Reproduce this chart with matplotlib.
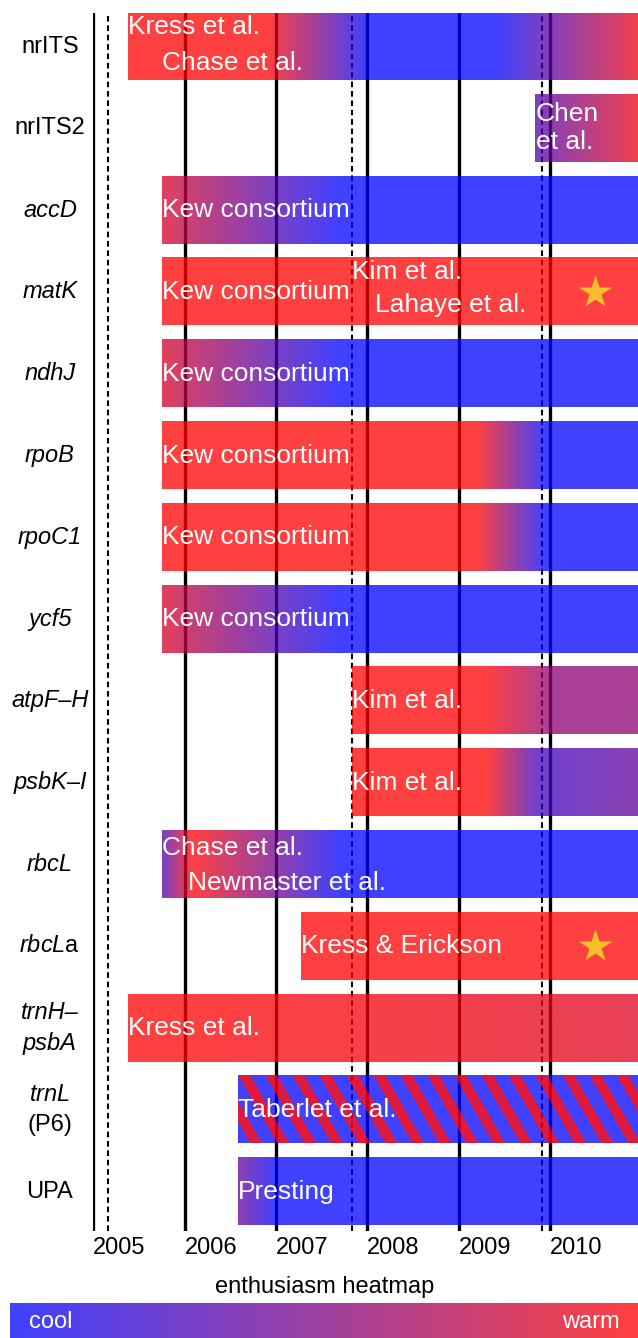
import numpy as np
import matplotlib
matplotlib.use("Agg")
import matplotlib.pyplot as plt
from matplotlib.colors import LinearSegmentedColormap

plt.rcParams['font.family'] = 'Liberation Sans'
plt.rcParams['mathtext.fontset'] = 'custom'
plt.rcParams['mathtext.rm'] = 'Liberation Sans'
plt.rcParams['mathtext.it'] = 'Liberation Sans:italic'

# ---- data -------------------------------------------------------------
markers = ['nrITS', 'nrITS2', 'accD', 'matK', 'ndhJ', 'rpoB', 'rpoC1', 'ycf5',
           'atpF-H', 'psbK-I', 'rbcL', 'rbcLa', 'trnH-psbA', 'trnL (P6)', 'UPA']
marker_labels = ['nrITS', 'nrITS2', 'accD', 'matK', 'ndhJ', 'rpoB', 'rpoC1',
                 'ycf5', 'atpF–H', 'psbK–I', 'rbcL', r'$\mathit{rbcL}$a',
                 'trnH–\npsbA', '$\\mathit{trnL}$\n(P6)', 'UPA']
label_italic = [False, False, True, True, True, True, True, True, True, True,
                True, False, True, False, False]

bar_start = [2005.38, 2009.84, 2005.75, 2005.75, 2005.75, 2005.75, 2005.75,
             2005.75, 2007.83, 2007.83, 2005.75, 2007.27, 2005.38, 2006.58,
             2006.58]
bar_end = 2011.0

# enthusiasm over time (1 = warm, 0 = cool); None = striped (mixed)
heat_years = [
    [2005.38, 2006.9, 2008.0, 2009.4, 2011.0],
    [2009.84, 2011.0],
    [2005.75, 2007.7],
    [2005.75, 2011.0],
    [2005.75, 2007.7],
    [2005.75, 2009.2, 2009.95],
    [2005.75, 2009.2, 2009.95],
    [2005.75, 2007.7],
    [2007.83, 2009.3, 2010.0, 2011.0],
    [2007.83, 2009.3, 2009.85, 2011.0],
    [2005.75, 2006.08, 2007.7],
    [2007.27, 2011.0],
    [2005.38, 2007.5, 2011.0],
    None,
    [2006.58, 2007.0],
]
heat_values = [
    [1.0, 1.0, 0.0, 0.0, 0.95],
    [0.3, 0.95],
    [0.85, 0.0],
    [1.0, 1.0],
    [0.85, 0.0],
    [1.0, 1.0, 0.0],
    [1.0, 1.0, 0.0],
    [0.85, 0.0],
    [1.0, 1.0, 0.55, 0.55],
    [1.0, 1.0, 0.25, 0.4],
    [0.3, 1.0, 0.0],
    [1.0, 1.0],
    [1.0, 0.97, 0.88],
    None,
    [0.4, 0.0],
]

# papers: (marker index, year, text, vertical offset within bar)
paper_rows = [0, 0, 1, 2, 3, 3, 3, 4, 5, 6, 7, 8, 9, 10, 10, 11, 12, 13, 14]
paper_years = [2005.38, 2005.75, 2009.84, 2005.75, 2005.75, 2007.83, 2008.08,
               2005.75, 2005.75, 2005.75, 2005.75, 2007.83, 2007.83, 2005.75,
               2006.03, 2007.27, 2005.38, 2006.58, 2006.58]
paper_names = ['Kress et al.', 'Chase et al.', 'Chen\net al.', 'Kew consortium',
               'Kew consortium', 'Kim et al.', 'Lahaye et al.', 'Kew consortium',
               'Kew consortium', 'Kew consortium', 'Kew consortium', 'Kim et al.',
               'Kim et al.', 'Chase et al.', 'Newmaster et al.',
               'Kress & Erickson', 'Kress et al.', 'Taberlet et al.', 'Presting']
paper_dy = [-0.24, 0.2, 0, 0, 0, -0.24, 0.16, 0, 0, 0, 0, 0, 0, -0.2, 0.22,
            0, 0, 0, 0]

star_rows = [3, 11]
star_year = 2010.5

year_lines = [2005, 2006, 2007, 2008, 2009, 2010]
event_lines = [2005.16, 2007.83, 2009.91]

# ---- layout -----------------------------------------------------------
W, H = 638, 1338
fig = plt.figure(figsize=(W / 100, H / 100), dpi=100)
ax_left, ax_top, ax_bottom = 93.3, 13, 1231
ax = fig.add_axes([ax_left / W, 1 - ax_bottom / H, (W - ax_left) / W,
                   (ax_bottom - ax_top) / H])
xlim = (2005.0, 2010.966)
ylim = (14.48, -0.41)
bar_h = 0.82
ppx = (W - ax_left) / (xlim[1] - xlim[0])
ppy = (ax_bottom - ax_top) / (ylim[0] - ylim[1])

cmap = LinearSegmentedColormap.from_list('heat', ['#0000FF', '#FF0000'])

for yr in year_lines:
    ax.axvline(yr, color='black', lw=2.4, zorder=1)
for yr in event_lines:
    ax.axvline(yr, color='black', lw=1.5, ls=(0, (2.7, 1.8)), zorder=1)

for i, name in enumerate(markers):
    x0 = bar_start[i]
    top, bot = i - bar_h / 2, i + bar_h / 2
    if heat_years[i] is not None:
        xs = np.linspace(x0, bar_end, 800)
        w = np.interp(xs, heat_years[i], heat_values[i])
        ax.imshow(w[None, :], extent=(x0, bar_end, bot, top), cmap=cmap,
                  vmin=0, vmax=1, alpha=0.75, aspect='auto',
                  interpolation='bilinear', zorder=2)
    else:
        # mixed opinions: red/blue diagonal stripes
        nx = int((bar_end - x0) * ppx * 3)
        ny = int(bar_h * ppy * 3)
        X, Y = np.meshgrid(np.linspace(x0, bar_end, nx),
                           np.linspace(top, bot, ny))
        phase = ((X - x0) * ppx - 0.58 * (Y - top) * ppy) % 27
        red = np.array([0.86, 0.0, 0.16, 0.9])
        blue = np.array([0.0, 0.0, 1.0, 0.75])
        img = np.where((phase < 12)[..., None], red, blue)
        ax.imshow(img, extent=(x0, bar_end, bot, top), origin='upper',
                  aspect='auto', interpolation='antialiased', zorder=2)

for r, yr, txt, dy in zip(paper_rows, paper_years, paper_names, paper_dy):
    ax.text(yr + 0.005, r + dy, txt, color='white', fontsize=19,
            ha='left', va='center', linespacing=1.2, zorder=3)

ax.plot([star_year] * len(star_rows), star_rows, ls='none', marker='*',
        ms=25, color='#F5BE2A', mec='none', zorder=4)

ytrans = ax.get_yaxis_transform()
for i, lbl in enumerate(marker_labels):
    ax.text(-0.0795, i, lbl, transform=ytrans, fontsize=17, ha='center',
            va='center', linespacing=1.45,
            style='italic' if label_italic[i] else 'normal')

ax.set_xlim(*xlim)
ax.set_ylim(*ylim)
ax.set_xticks(year_lines)
ax.set_xticklabels([str(y) for y in year_lines], fontsize=17)
for t in ax.get_xticklabels():
    t.set_ha('left')
ax.tick_params(axis='x', length=0, pad=4)
ax.set_yticks([])
for s in ax.spines.values():
    s.set_visible(False)

fig.text(325 / W, 1 - 1287 / H, 'enthusiasm heatmap', fontsize=17,
         ha='center', va='center')

cax = fig.add_axes([10 / W, 0, (W - 10) / W, 35 / H])
cax.imshow(np.linspace(0, 1, 256)[None, :], cmap=cmap, alpha=0.75,
           aspect='auto', extent=(0, 1, 0, 1))
cax.set_axis_off()
cax.text(19 / 628, 0.45, 'cool', color='white', fontsize=17, ha='left',
         va='center', transform=cax.transAxes)
cax.text(610 / 628, 0.45, 'warm', color='white', fontsize=17, ha='right',
         va='center', transform=cax.transAxes)

fig.savefig('out.png', dpi=100)
